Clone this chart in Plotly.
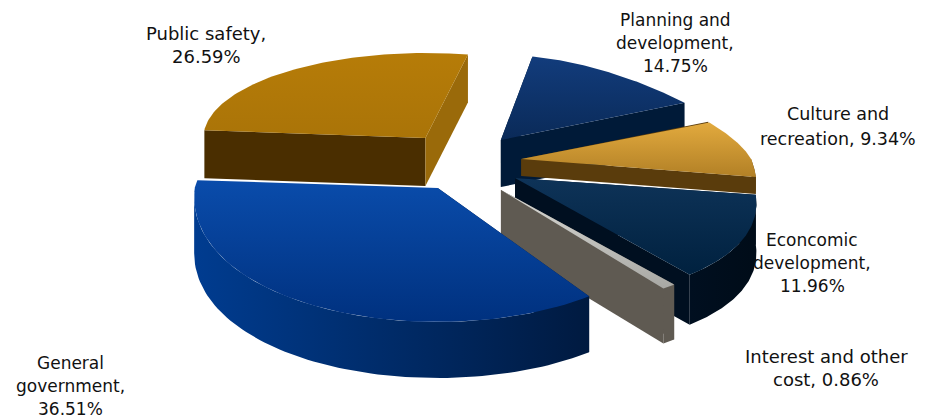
import numpy as np
import plotly.graph_objects as go

# ---- data ----
categories = ["Planning and development", "Culture and recreation", "Econcomic development",
              "Interest and other cost", "General government", "Public safety"]
shares = [14.75, 9.34, 11.96, 0.86, 36.51, 26.59]
label_lines = [["Planning and", "development,", "14.75%"],
               ["Culture and", "recreation, 9.34%"],
               ["Econcomic", "development,", "11.96%"],
               ["Interest and other", "cost, 0.86%"],
               ["General", "government,", "36.51%"],
               ["Public safety,", "26.59%"]]

# ---- style ----
START = 11.0
CX = 468
RY_BACK = 85
ry_front = [133, 133, 125, 122, 134, 133]
rx_by_slice = [235, 230, 236, 234, 243, 222]
persp = [0.30, 0.22, 0.22, 0.22, 0.07, 0.0]
thick = [47, 17, 50, 55, 56, 48]
explode = [0.22, 0.22, 0.22, 0.22, 0.25, 0.29]
apex_y = [140, 159, 178, 190, 188, 138]
draw_order = [5, 0, 1, 2, 3, 4]
top_cols = [("#123c7c", "#0a2a58"), ("#e2aa3e", "#b28026"), ("#0e3358", "#00213f"),
            ("#d8d8d4", "#a8a8a4"), ("#0a4cab", "#00317f"), ("#b67c08", "#aa7408")]
wall_cols = [("#001c3c", "#001c3c"), ("#5a3c0c", "#5a3c0c"), ("#000f20", "#000c18"),
             ("#5f5a52", "#5f5a52"), ("#003c90", "#001a40"), ("#4a2e00", "#4a2e00")]
cut_start = ["#001a38", "#5a3c0c", "#000f20", "#5f5a52", "#001a40", "#4a2e00"]
cut_end = ["#001a38", "#5a3c0c", "#000f20", "#5f5a52", "#003c90", "#9a6a0a"]
label_pos = [(675, 20, 23), (838, 114, 25), (812, 240, 23), (826, 356, 23), (70, 363, 23), (206, 33, 23)]
label_size = [17, 17.5, 17, 18, 17, 18]
WALL_END = 266

fig = go.Figure()


def rim(theta, i):
    t = np.radians(theta)
    c = np.cos(t)
    x = rx_by_slice[i] * np.sin(t) * (1 - persp[i] * c)
    y = np.where(c > 0, -RY_BACK * c, -ry_front[i] * c)
    return x, y


def poly(x, y, cols=None, solid=None, kind="vertical"):
    tr = dict(x=list(x) + [x[0]], y=list(y) + [y[0]], mode="lines", line=dict(width=0),
              fill="toself", hoverinfo="skip", showlegend=False)
    if cols:
        # the y axis is reversed, so a vertical gradient runs bottom-to-top on data values
        scale = [[0, cols[1]], [1, cols[0]]] if kind == "vertical" else [[0, cols[0]], [1, cols[1]]]
        tr["fillgradient"] = dict(type=kind, colorscale=scale)
    else:
        tr["fillcolor"] = solid
    fig.add_trace(go.Scatter(**tr))


edges = START + np.concatenate([[0], np.cumsum(shares)]) * 3.6
for i in draw_order:
    a0, a1 = edges[i], edges[i + 1]
    m = np.radians((a0 + a1) / 2)
    ax = CX + explode[i] * 245 * np.sin(m)
    ay = apex_y[i]
    d = thick[i]
    th = np.linspace(a0, a1, 80)
    rx_, ry_ = rim(th, i)
    px, py = ax + rx_, ay + ry_
    for col, px0, py0 in ((cut_start[i], px[0], py[0]), (cut_end[i], px[-1], py[-1])):
        if col != "#003c90":
            poly([ax, px0, px0, ax], [ay, py0, py0 + d, ay + d], solid=col)
    lo, hi = max(a0, 90), min(a1, WALL_END)
    if hi > lo:
        tw = np.linspace(lo, hi, 80)
        wx, wy = rim(tw, i)
        wx, wy = ax + wx, ay + wy
        poly(np.r_[wx, wx[::-1]], np.r_[wy, (wy + d)[::-1]], cols=wall_cols[i], kind="horizontal")
    poly(np.r_[ax, px], np.r_[ay, py], cols=top_cols[i])

for (lx, ly, step), lines, size in zip(label_pos, label_lines, label_size):
    for k, s in enumerate(lines):
        fig.add_annotation(x=lx, y=ly + k * step, text=s, showarrow=False, xanchor="center",
                           yanchor="middle", font=dict(family="DejaVu Sans", size=size, color="#111111"))

# the page has an 8 px body margin: the plot area starts 8 px in
fig.update_layout(width=917, height=411, margin=dict(l=0, r=0, t=0, b=0),
                  paper_bgcolor="white", plot_bgcolor="white", showlegend=False,
                  xaxis=dict(range=[8, 925], visible=False, fixedrange=True),
                  yaxis=dict(range=[419, 8], visible=False, fixedrange=True))
fig.write_html("out.html", config={"displayModeBar": False})
